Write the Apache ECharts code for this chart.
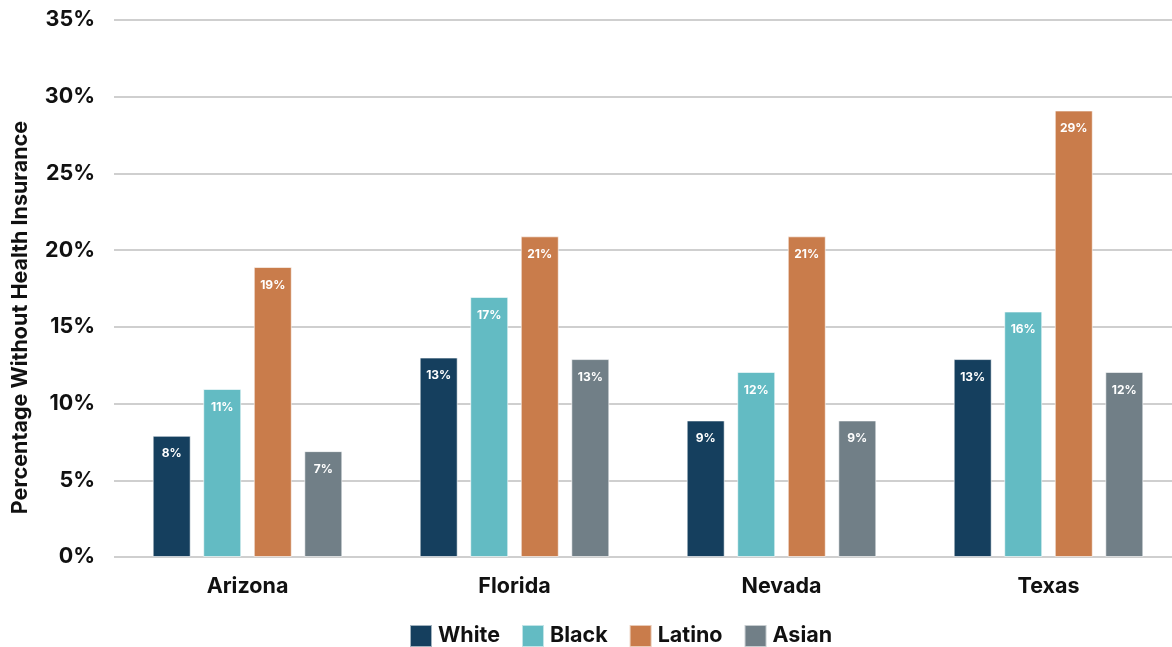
<!DOCTYPE html>
<html><head><meta charset="utf-8">
<script src="https://cdn.jsdelivr.net/npm/echarts@6/dist/echarts.min.js"></script>
<style>html,body{margin:0;padding:0;background:#fff;overflow:hidden}#c{width:1172px;height:647px}</style>
</head><body><div id="c"></div>
<script>
const categories = ['Arizona', 'Florida', 'Nevada', 'Texas'];
const white = [7.9, 13.0, 8.9, 12.9];
const black = [10.95, 16.95, 12.06, 16.0];
const latino = [18.9, 20.9, 20.9, 29.1];
const asian = [6.9, 12.9, 8.9, 12.06];
const seriesNames = ['White', 'Black', 'Latino', 'Asian'];
const colors = ['#153f5e', '#63bbc3', '#c97c4b', '#717f87'];
const yTicks = [0, 5, 10, 15, 20, 25, 30, 35];

const font = 'Inter, "Noto Sans", sans-serif';
const fs = 21.5;
const chart = echarts.init(document.getElementById('c'));
const data = [white, black, latino, asian];
chart.setOption({
  animation: false,
  color: colors,
  textStyle: { fontFamily: font },
  grid: { left: 114, top: 20, bottom: 90, width: 1068, containLabel: false, outerBoundsMode: 'none' },
  legend: {
    top: 619, left: 404, itemWidth: 22, itemHeight: 22, itemGap: 21,
    icon: 'rect',
    textStyle: { fontSize: fs, fontWeight: 'bold', color: '#111', fontFamily: font, padding: [0, 0, 0, 1] },
    data: seriesNames
  },
  xAxis: {
    type: 'category', data: categories,
    axisLine: { show: false }, axisTick: { show: false },
    axisLabel: { fontSize: fs, fontWeight: 'bold', color: '#111', margin: 19, fontFamily: font }
  },
  yAxis: {
    type: 'value', min: 0, max: 35, interval: 5,
    name: 'Percentage Without Health Insurance', nameLocation: 'middle', nameGap: 82,
    nameTextStyle: { fontSize: fs, fontWeight: 'bold', color: '#111', fontFamily: font, padding: [0, 58, 0, 0] },
    axisLabel: { formatter: v => yTicks.includes(v) ? v + '%' : '', fontSize: fs, fontWeight: 'bold', color: '#111', margin: 19, fontFamily: font },
    splitLine: { lineStyle: { color: '#cfcfcf', width: 2 } },
    axisLine: { show: false }, axisTick: { show: false }
  },
  series: seriesNames.map((n, i) => ({
    name: n, type: 'bar', data: data[i], barWidth: 38, barGap: '33%',
    itemStyle: { borderColor: 'rgba(255,255,255,0.6)', borderWidth: 1 },
    label: { show: true, position: 'insideTop', distance: 12, color: '#fff', fontSize: 12, fontWeight: 'bold', fontFamily: font,
      formatter: p => Math.round(p.value) + '%' }
  }))
});
</script></body></html>
